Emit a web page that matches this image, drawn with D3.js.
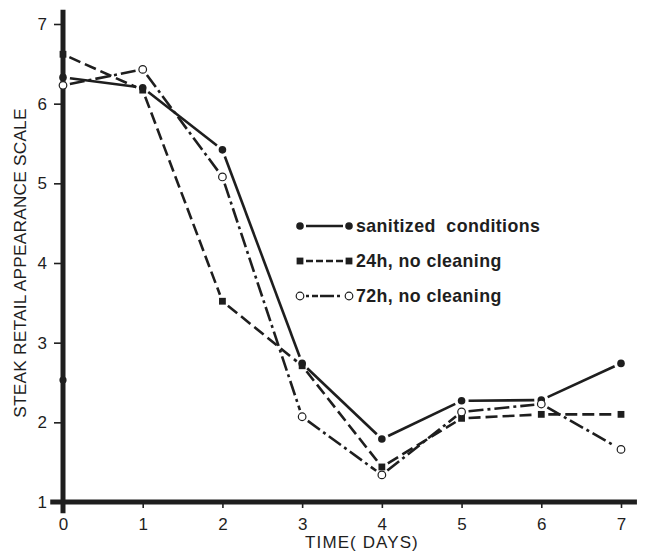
<!DOCTYPE html>
<html>
<head>
<meta charset="utf-8">
<script src="https://cdn.jsdelivr.net/npm/d3@7"></script>
<style>
  html, body { margin: 0; padding: 0; background: #fff; }
  svg { display: block; }
  text { font-family: "Liberation Sans", Arial, Helvetica, sans-serif; fill: #1e1e1e; }
</style>
</head>
<body>
<div id="chart"></div>
<script>
// Retail appearance score of steaks over display time, three sanitation regimes
const days = [0, 1, 2, 3, 4, 5, 6, 7];
const sanitized = [6.33, 6.20, 5.42, 2.74, 1.79, 2.27, 2.28, 2.74];
const noClean24h = [6.62, 6.17, 3.52, 2.71, 1.44, 2.05, 2.10, 2.10];
const noClean72h = [6.23, 6.43, 5.08, 2.07, 1.34, 2.13, 2.23, 1.66];
const seriesNames = ["sanitized  conditions", "24h, no cleaning", "72h, no cleaning"];
const yTicks = [1, 2, 3, 4, 5, 6, 7];
const xTicks = [0, 1, 2, 3, 4, 5, 6, 7];
const axisDot = [{ day: 0, score: 2.53 }];

const W = 649, H = 552;
const ink = "#1e1e1e";

const svg = d3.select("#chart").append("svg")
  .attr("width", W).attr("height", H);

const x = d3.scaleLinear().domain([0, 7]).range([63, 621]);
const y = d3.scaleLinear().domain([1, 7]).range([502, 24]);

const series = [
  { name: seriesNames[0], values: sanitized, dash: null, marker: "dot" },
  { name: seriesNames[1], values: noClean24h, dash: "12,5", marker: "square" },
  { name: seriesNames[2], values: noClean72h, dash: "15,4,3,4", marker: "ring" }
];

// Connecting segments stop short of the markers, leaving a small gap
const gap = 7;
function trimmedSegments(pts) {
  const segs = [];
  for (let i = 0; i < pts.length - 1; i++) {
    const [x1, y1] = pts[i], [x2, y2] = pts[i + 1];
    const dx = x2 - x1, dy = y2 - y1, len = Math.hypot(dx, dy);
    const ux = dx / len, uy = dy / len;
    segs.push([[x1 + ux * gap, y1 + uy * gap], [x2 - ux * gap, y2 - uy * gap]]);
  }
  return segs;
}

function drawMarker(g, kind, cx, cy) {
  if (kind === "dot") {
    g.append("circle").attr("cx", cx).attr("cy", cy).attr("r", 3.8).attr("fill", ink);
  } else if (kind === "square") {
    g.append("rect").attr("x", cx - 3.4).attr("y", cy - 3.4)
      .attr("width", 6.8).attr("height", 6.8).attr("fill", ink);
  } else {
    g.append("circle").attr("cx", cx).attr("cy", cy).attr("r", 3.8)
      .attr("fill", "#fff").attr("stroke", ink).attr("stroke-width", 1.2);
  }
}

// Axes: thick frame lines on the left and bottom
const yAxis = d3.axisLeft(y).tickValues(yTicks).tickFormat(d3.format("d"))
  .tickSize(9).tickPadding(7);
const xAxis = d3.axisBottom(x).tickValues(xTicks).tickFormat(d3.format("d"))
  .tickSize(6).tickPadding(10);

const gy = svg.append("g").attr("transform", `translate(${x(0)},0)`).call(yAxis);
gy.select(".domain").remove();
gy.selectAll(".tick line").attr("stroke", ink).attr("stroke-width", 1.6);
gy.selectAll(".tick text").attr("font-size", 17).style("fill", ink);

const gx = svg.append("g").attr("transform", `translate(0,${y(1)})`).call(xAxis);
gx.select(".domain").remove();
gx.selectAll(".tick line").attr("stroke", ink).attr("stroke-width", 1.6);
gx.selectAll(".tick text").attr("font-size", 17).style("fill", ink);

svg.append("line")
  .attr("x1", x(0)).attr("x2", x(0))
  .attr("y1", y(7.18)).attr("y2", y(0.86))
  .attr("stroke", ink).attr("stroke-width", 5);
svg.append("line")
  .attr("x1", x(-0.16)).attr("x2", x(7.2))
  .attr("y1", y(1)).attr("y2", y(1))
  .attr("stroke", ink).attr("stroke-width", 5);

svg.selectAll(".axis-dot").data(axisDot).enter().append("circle")
  .attr("class", "axis-dot")
  .attr("cx", d => x(d.day)).attr("cy", d => y(d.score))
  .attr("r", 3.6).attr("fill", ink);

// Axis titles
svg.append("text")
  .attr("transform", "translate(26,263) rotate(-90)")
  .attr("text-anchor", "middle")
  .attr("font-size", 17.3)
  .attr("letter-spacing", 0.2)
  .text("STEAK RETAIL APPEARANCE SCALE");

svg.append("text")
  .attr("x", 362).attr("y", 548)
  .attr("text-anchor", "middle")
  .attr("font-size", 17)
  .attr("letter-spacing", 1.1)
  .text("TIME( DAYS)");

// Data lines and markers
series.forEach(s => {
  const pts = days.map((d, i) => [x(d), y(s.values[i])]);
  const g = svg.append("g");
  g.selectAll("line").data(trimmedSegments(pts)).enter().append("line")
    .attr("x1", d => d[0][0]).attr("y1", d => d[0][1])
    .attr("x2", d => d[1][0]).attr("y2", d => d[1][1])
    .attr("stroke", ink).attr("stroke-width", 2.6)
    .attr("stroke-dasharray", s.dash);
  pts.forEach(p => drawMarker(g, s.marker, p[0], p[1]));
});

// Legend
const legendY = [226, 261, 296];
series.forEach((s, i) => {
  const g = svg.append("g");
  const ly = legendY[i];
  g.append("line")
    .attr("x1", 306).attr("x2", 343).attr("y1", ly).attr("y2", ly)
    .attr("stroke", ink).attr("stroke-width", 2.4)
    .attr("stroke-dasharray", s.dash ? (i === 1 ? "7,3" : "3,3,6,2,14") : null);
  drawMarker(g, s.marker, 300, ly);
  drawMarker(g, s.marker, 349, ly);
  g.append("text")
    .attr("x", 356).attr("y", ly + 6)
    .attr("font-size", 17.8)
    .attr("font-weight", "bold")
    .attr("letter-spacing", 0.4)
    .style("white-space", "pre")
    .text(s.name);
});
</script>
</body>
</html>
